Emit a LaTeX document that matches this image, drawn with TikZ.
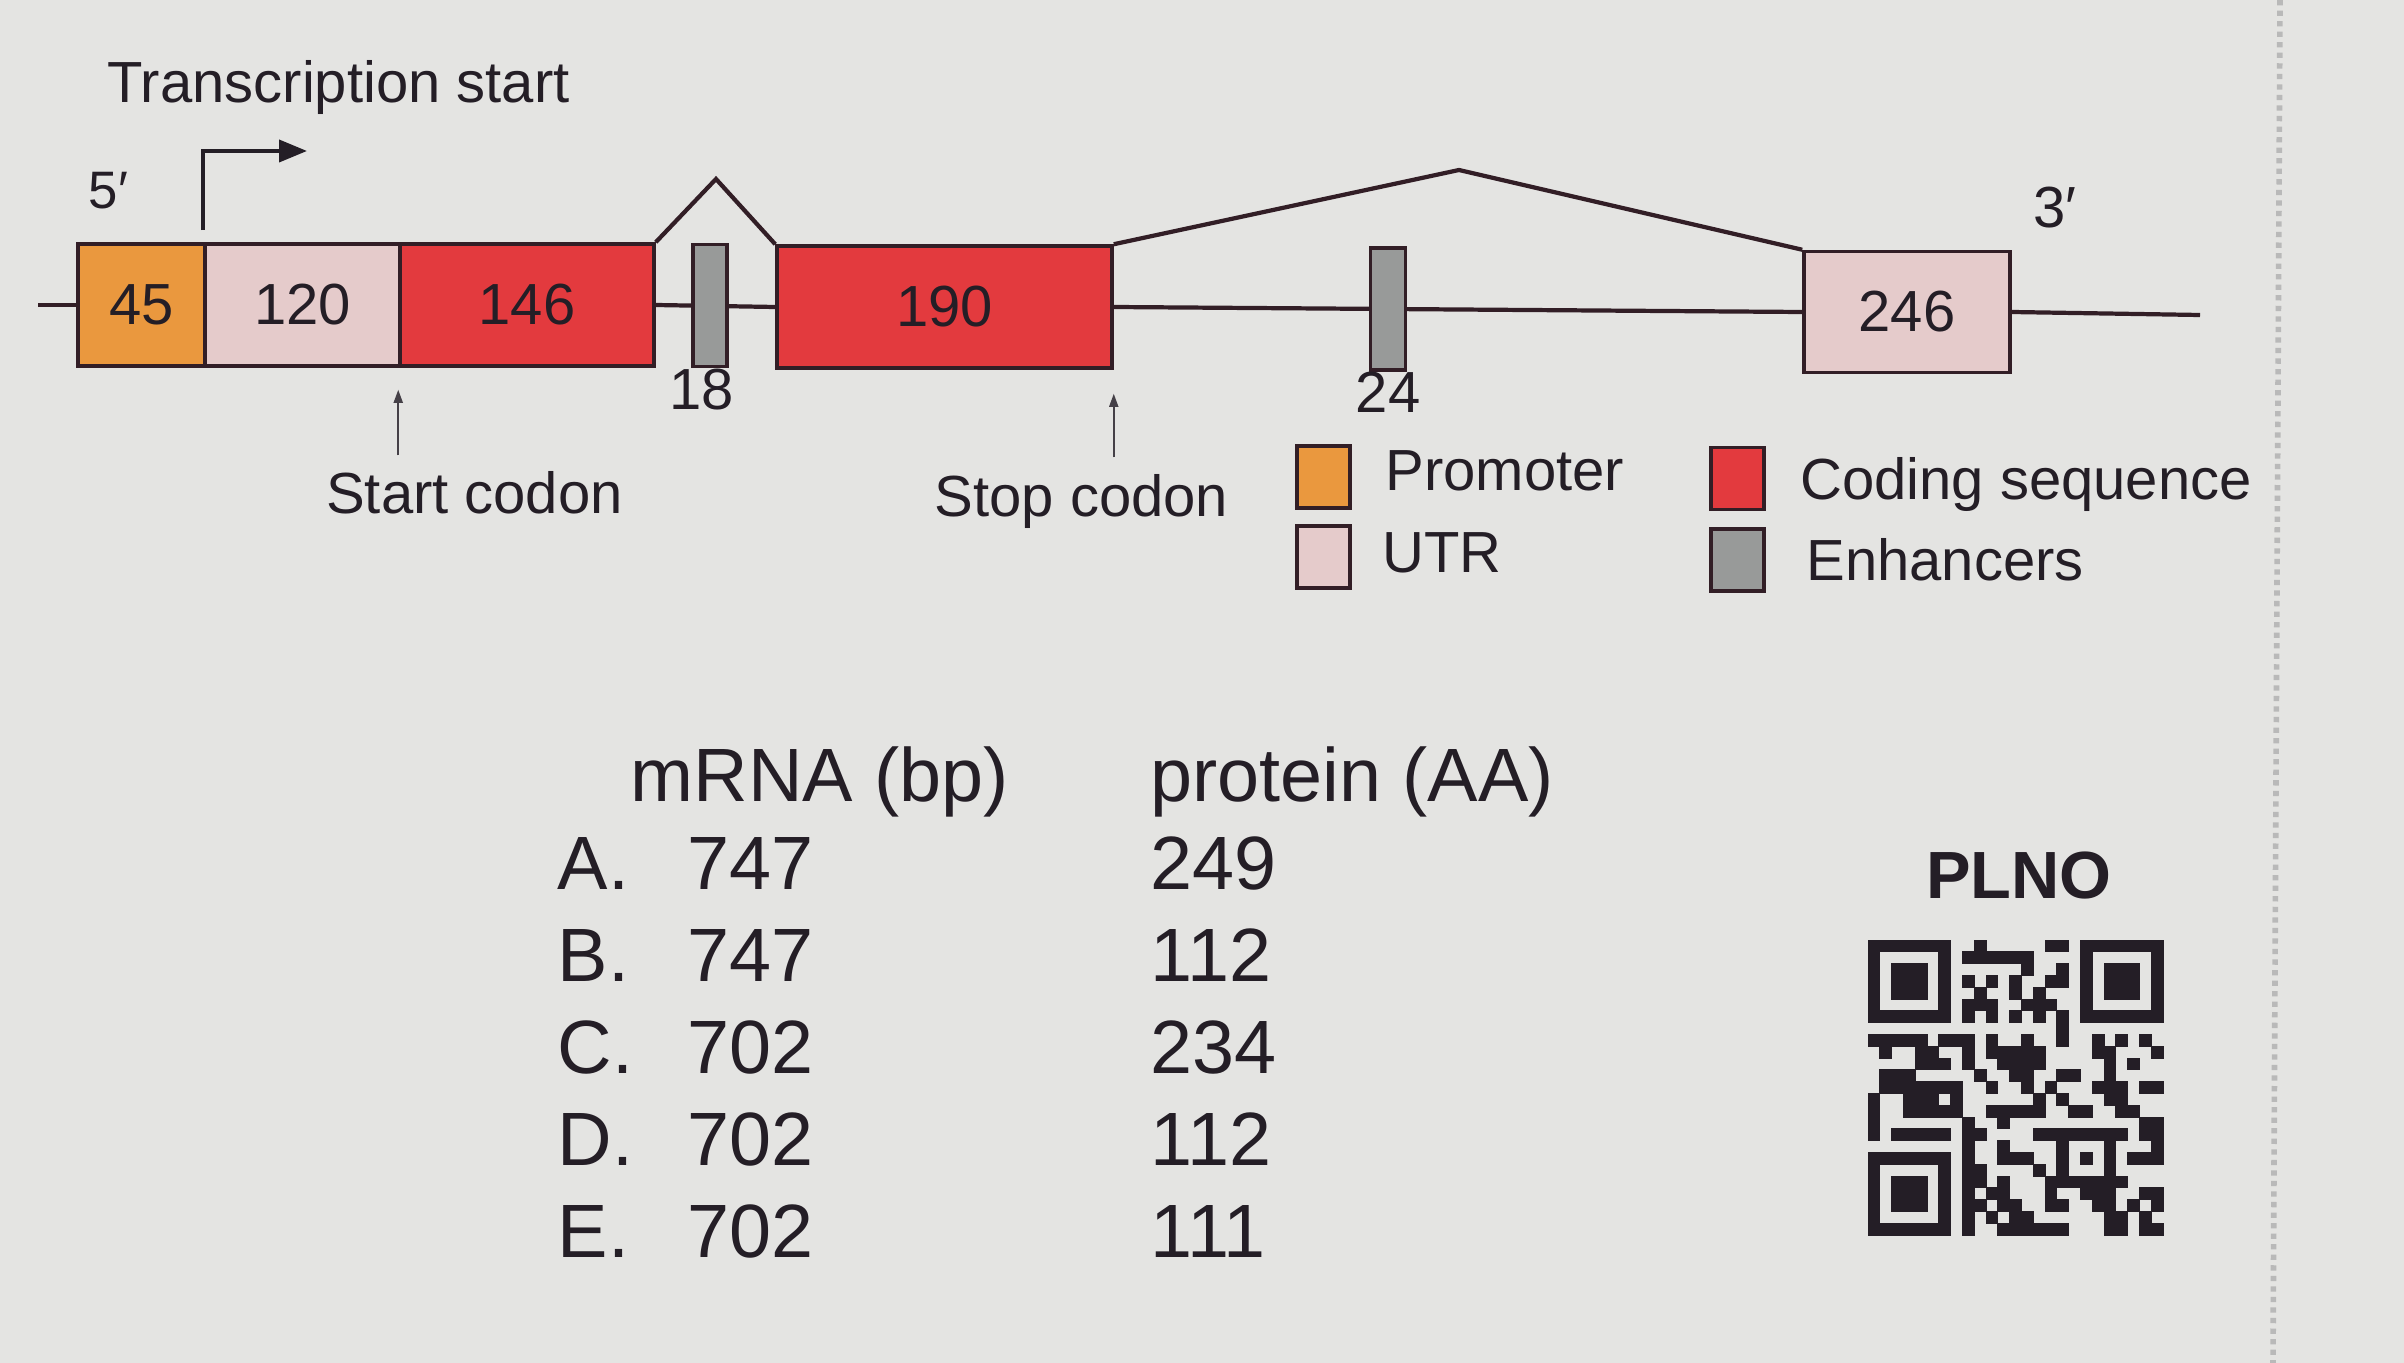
\documentclass[tikz,border=0pt]{standalone}
\usepackage{fontspec}
\setmainfont{Liberation Sans}
\usetikzlibrary{positioning,arrows.meta}

\definecolor{bgcol}{RGB}{228,228,226}
\definecolor{inkcol}{RGB}{36,30,38}
\definecolor{edgecol}{RGB}{50,30,38}
\definecolor{promcol}{RGB}{234,152,62}
\definecolor{utrcol}{RGB}{229,203,203}
\definecolor{cdscol}{RGB}{227,58,62}
\definecolor{enhcol}{RGB}{152,154,153}

\newcommand\lblfont{\fontsize{16.5}{19}\selectfont}
\newcommand\tblfont{\fontsize{21.5}{25}\selectfont}
\newcommand\qrtitlefont{\fontsize{19}{22}\selectfont\bfseries}

% one row of the code, read bit by bit
\newcount\qrcol
\def\qrscan#1{\ifx\relax#1\else
  \if1#1\fill[qrdark] ({\the\qrcol*0.118+18.68},{-\qrrow*0.118-9.40}) rectangle ++(0.118,-0.118);\fi
  \advance\qrcol by 1
  \expandafter\qrscan\fi}

\begin{document}
\begin{tikzpicture}[
    exon/.style={draw=edgecol, line width=1pt, inner sep=0pt, minimum height=1.22cm, text=inkcol, font=\lblfont},
    enh/.style={draw=edgecol, fill=enhcol, line width=1pt, inner sep=0pt, minimum width=0.35cm, minimum height=1.22cm},
    dna/.style={draw=edgecol, line width=1.2pt},
    lbl/.style={font=\lblfont, text=inkcol, inner sep=0pt},
    codon/.style={draw=inkcol!85, line width=0.5pt, -{Triangle[length=1.3mm,width=0.9mm]}},
    legbox/.style={draw=edgecol, line width=1pt, inner sep=0pt, minimum width=0.53cm, minimum height=0.62cm},
    tbl/.style={font=\tblfont, text=inkcol, inner sep=0pt, anchor=base west},
    qrdark/.style={fill=inkcol, draw=inkcol, line width=0.2pt}
    ]
    % slide
    \fill[bgcol] (0,0) rectangle (24.04,-13.63);
    \useasboundingbox (0,0) rectangle (24.04,-13.63);
    \draw[gray!55, line width=1.6pt, dash pattern=on 1.5pt off 1.5pt] (22.80,0) -- (22.73,-13.63);

    % exons
    \node[exon, fill=promcol, minimum width=1.27cm] (p45) at (1.415,-3.05) {45};
    \node[exon, fill=utrcol, minimum width=1.95cm] (u120) at (3.025,-3.05) {120};
    \node[exon, fill=cdscol, minimum width=2.54cm] (c146) at (5.27,-3.05) {146};
    \node[exon, fill=cdscol, minimum width=3.35cm] (c190) at (9.445,-3.07) {190};
    \node[exon, fill=utrcol, minimum width=2.06cm, minimum height=1.21cm] (u246) at (19.07,-3.12) {246};

    % strand and splicing
    \coordinate (lstart) at (0.38,-3.05);
    \coordinate (lend) at (22.00,-3.15);
    \coordinate (sp1) at (7.16,-1.79);
    \coordinate (sp2) at (14.59,-1.70);
    \draw[dna] (lstart) -- (p45.west);
    \draw[dna] (c146.east) -- (c190.west);
    \draw[dna] (c190.east) -- (u246.west);
    \draw[dna] (u246.east) -- (lend);
    \draw[dna, line join=miter] (c146.north east) -- (sp1) -- (c190.north west);
    \draw[dna, line join=miter] (c190.north east) -- (sp2) -- (u246.north west);

    % enhancers
    \node[enh, minimum width=0.34cm] (e18) at (7.10,-3.055) {};
    \node[enh] (e24) at (13.88,-3.09) {};
    \node[lbl, below=0cm of e18, xshift=-0.8mm] (l18) {18};
    \node[lbl, below=0cm of e24] (l24) {24};

    % ends and transcription start
    \node[lbl, anchor=base west, font=\fontsize{15}{18}\selectfont] (five) at (0.88,-2.09) {5′};
    \node[lbl, anchor=base west] (three) at (20.33,-2.28) {3′};
    \node[lbl, anchor=base west] (tslbl) at (1.07,-1.03) {Transcription start};
    \coordinate (tss) at (3.07,-1.51);
    \draw[draw=inkcol, line width=1.1pt, -{Triangle[length=2.8mm,width=2.2mm]}]
        ([yshift=1.2mm]u120.north west) |- (tss);

    % codons
    \node[lbl, anchor=base] (startlbl) at (4.745,-5.14) {Start codon};
    \node[lbl, anchor=base] (stoplbl) at (10.815,-5.16) {Stop codon};
    \draw[codon] ([yshift=1.6mm]startlbl.north -| c146.south west) -- ([yshift=-2.2mm]c146.south west);
    \draw[codon] ([yshift=1.6mm]stoplbl.north -| c190.south east) -- ([yshift=-2.4mm]c190.south east);

    % legend
    \node[legbox, fill=promcol] (lgp) at (13.235,-4.77) {};
    \node[legbox, fill=utrcol] (lgu) at (13.235,-5.57) {};
    \node[legbox, fill=cdscol] (lgc) at (17.375,-4.785) {};
    \node[legbox, fill=enhcol] (lge) at (17.375,-5.60) {};
    \node[lbl, right=0.33cm of lgp, yshift=0.6mm] (tprom) {Promoter};
    \node[lbl, right=0.30cm of lgu, yshift=0.4mm] (tutr) {UTR};
    \node[lbl, right=0.34cm of lgc, yshift=-0.6mm] (tcds) {Coding sequence};
    \node[lbl, right=0.40cm of lge] (tenh) {Enhancers};

    % answer table
    \node[tbl] (hmrna) at (6.30,-8.01) {mRNA (bp)};
    \node[tbl] (hprot) at (11.50,-8.01) {protein (AA)};
    \node[tbl] (oa) at (5.57,-8.89) {A.};
    \node[tbl] (ma) at (6.87,-8.89) {747};
    \node[tbl] (pa) at (11.50,-8.89) {249};
    \node[tbl] (ob) at (5.57,-9.81) {B.};
    \node[tbl] (mb) at (6.87,-9.81) {747};
    \node[tbl] (pb) at (11.50,-9.81) {112};
    \node[tbl] (oc) at (5.57,-10.73) {C.};
    \node[tbl] (mc) at (6.87,-10.73) {702};
    \node[tbl] (pc) at (11.50,-10.73) {234};
    \node[tbl] (od) at (5.57,-11.65) {D.};
    \node[tbl] (md) at (6.87,-11.65) {702};
    \node[tbl] (pd) at (11.50,-11.65) {112};
    \node[tbl] (oe) at (5.57,-12.57) {E.};
    \node[tbl] (me) at (6.87,-12.57) {702};
    \node[tbl] (pe) at (11.50,-12.57) {111};

    % PLNO code
    \node[lbl, anchor=base, font=\qrtitlefont] (plno) at (20.19,-8.98) {PLNO};
    \foreach \qrrow/\qrbits in {
        0/1111111001000001101111111, 1/1000001011111100001000001,
        2/1011101000000100101011101, 3/1011101010101001101011101,
        4/1011101001001010001011101, 5/1000001011100111001000001,
        6/1111111010101010101111111, 7/0000000000000000100000000,
        8/1111101110100100100101010, 9/0100110010111110000110001,
        10/0000111010011110000010100, 11/0111000001001100110010000,
        12/0111111100100101000111011, 13/1001110100000010100011000,
        14/1001111100111110011001100, 15/1000000010010000000000011,
        16/1011111011000011111111011, 17/0000000010010000100010001,
        18/1111111010011100101010111, 19/1000001011000010100010000,
        20/1011101011010001111111000, 21/1011101010110001001110011,
        22/1011101011011001100110101, 23/1000001010101100000011010,
        24/1111111010011111100011011}{
        \qrcol=0 \expandafter\qrscan\qrbits\relax
    }
\end{tikzpicture}
\end{document}
